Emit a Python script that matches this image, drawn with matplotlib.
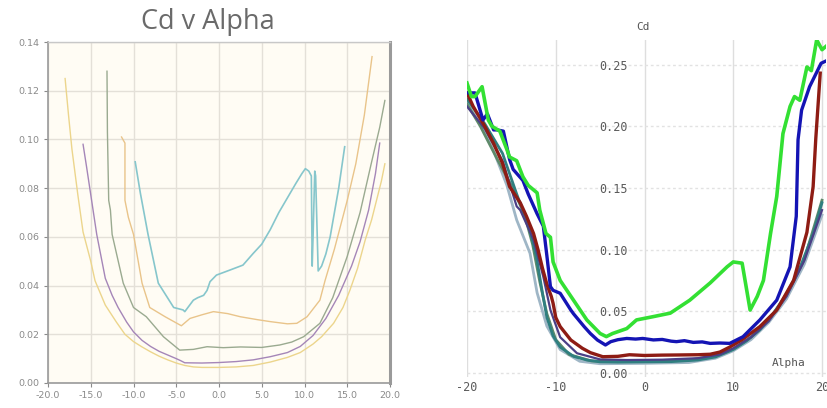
import matplotlib
matplotlib.use("Agg")
import matplotlib.pyplot as plt

# ---------------- left panel: Cd v Alpha (thin pastel curves) ----------------
yel_a = [-18.0, -17.6, -17.2, -16.5, -15.9, -15.0, -14.5, -13.3, -12.0, -11.0, -10.0, -9.0, -8.0, -7.0, -6.0,
         -5.0, -4.0, -3.0, -2.0, 0.0, 2.0, 4.0, 6.0, 8.0, 9.5, 11.0, 12.0, 13.4, 14.5, 15.3, 16.2, 17.1,
         17.85, 19.0, 19.4]
yel_cd = [0.125, 0.110, 0.096, 0.077, 0.062, 0.050, 0.042, 0.032, 0.025, 0.020, 0.017, 0.0148, 0.0128, 0.011,
          0.0095, 0.0082, 0.0072, 0.0066, 0.0064, 0.0064, 0.0066, 0.0072, 0.0086, 0.0105, 0.0125, 0.016, 0.019,
          0.0245, 0.031, 0.038, 0.047, 0.0587, 0.067, 0.083, 0.090]

pur_a = [-15.9, -15.5, -14.9, -14.3, -13.3, -12.5, -11.8, -10.8, -10.0, -9.0, -8.0, -7.0, -6.0, -5.0, -4.5,
         -4.0, -2.0, 0.0, 2.0, 4.0, 6.0, 8.0, 9.5, 11.0, 12.5, 14.0, 15.5, 16.5, 17.5, 18.3, 18.8]
pur_cd = [0.098, 0.089, 0.075, 0.061, 0.043, 0.036, 0.031, 0.025, 0.021, 0.0175, 0.015, 0.013, 0.0115, 0.010,
          0.0092, 0.0083, 0.0082, 0.0084, 0.0088, 0.0095, 0.0108, 0.0125, 0.015, 0.0195, 0.0265, 0.036, 0.048,
          0.058, 0.071, 0.086, 0.0985]

grn_a = [-13.1, -13.05, -12.9, -12.7, -12.5, -11.2, -10.0, -8.5, -6.5, -4.6, -3.0, -1.4, 0.5, 2.5, 5.0, 7.1,
         8.5, 9.9, 11.8, 13.3, 15.0, 16.5, 17.8, 18.8, 19.4]
grn_cd = [0.128, 0.103, 0.075, 0.071, 0.061, 0.041, 0.031, 0.0272, 0.019, 0.0135, 0.0138, 0.0149, 0.0145,
          0.0148, 0.0146, 0.0156, 0.0168, 0.019, 0.0245, 0.035, 0.052, 0.070, 0.090, 0.105, 0.116]

org_a = [-11.4, -11.0, -11.0, -10.6, -10.0, -9.0, -8.1, -6.3, -4.4, -3.4, -2.0, -0.65, 1.0, 2.5, 4.5, 6.0,
         8.0, 9.1, 10.3, 11.8, 12.4, 13.5, 15.0, 16.0, 17.0, 17.9]
org_cd = [0.101, 0.0985, 0.075, 0.068, 0.061, 0.041, 0.031, 0.0272, 0.0235, 0.0265, 0.028, 0.0293, 0.0285,
          0.0272, 0.026, 0.0252, 0.0243, 0.0245, 0.0272, 0.034, 0.042, 0.055, 0.075, 0.090, 0.110, 0.134]

teal_a = [-9.8, -9.2, -8.3, -7.1, -5.3, -4.2, -4.0, -3.0, -2.5, -1.8, -1.4, -1.05, -0.3, 1.3, 2.8, 4.0, 5.0,
          6.0, 7.0, 8.0, 9.0, 9.7, 10.1, 10.5, 10.8, 10.9, 11.0, 11.2, 11.3, 11.6, 12.0, 12.5, 13.0, 13.5,
          14.0, 14.7]
teal_cd = [0.0908, 0.078, 0.061, 0.041, 0.031, 0.030, 0.0293, 0.034, 0.035, 0.036, 0.038, 0.0416, 0.0443,
           0.0464, 0.0484, 0.0532, 0.057, 0.063, 0.070, 0.076, 0.082, 0.086, 0.088, 0.087, 0.085, 0.048, 0.060,
           0.087, 0.085, 0.046, 0.048, 0.053, 0.060, 0.070, 0.080, 0.097]

left_yticks = [0.00, 0.02, 0.04, 0.06, 0.08, 0.10, 0.12, 0.14]
left_xticks = [-20.0, -15.0, -10.0, -5.0, 0.0, 5.0, 10.0, 15.0, 20.0]

# ---------------- right panel: thick coloured curves ----------------
g_a = [-20.0, -19.5, -19.1, -18.3, -17.6, -17.2, -16.3, -15.5, -15.2, -14.4, -13.7, -13.1, -12.1, -11.8,
       -11.1, -10.6, -10.3, -9.5, -8.0, -6.5, -5.0, -4.3, -3.6, -2.0, -0.9, 1.0, 2.9, 5.1, 7.4, 9.3, 10.0,
       11.0, 11.9, 12.7, 13.4, 14.2, 14.9, 15.6, 16.4, 16.9, 17.5, 18.3, 18.8, 19.4, 20.0, 20.5]
g_cd = [0.235, 0.224, 0.224, 0.232, 0.205, 0.200, 0.196, 0.181, 0.175, 0.172, 0.159, 0.152, 0.146, 0.132,
        0.113, 0.110, 0.090, 0.075, 0.059, 0.043, 0.032, 0.0295, 0.032, 0.036, 0.043, 0.0457, 0.0485, 0.059,
        0.073, 0.086, 0.090, 0.089, 0.051, 0.062, 0.075, 0.113, 0.143, 0.194, 0.216, 0.224, 0.221, 0.248,
        0.245, 0.270, 0.262, 0.265]

b_a = [-20.0, -19.1, -18.2, -17.7, -17.0, -16.6, -15.9, -15.2, -14.8, -13.7, -13.1, -12.1, -11.4, -11.0,
       -10.6, -10.3, -9.5, -8.3, -8.0, -6.8, -6.1, -5.3, -4.4, -3.8, -3.0, -2.0, -1.0, -0.2, 1.0, 2.0, 3.0,
       3.6, 4.5, 5.5, 6.5, 7.4, 8.5, 9.6, 11.1, 13.0, 14.9, 16.4, 17.1, 17.3, 17.7, 18.6, 19.9, 20.5]
b_cd = [0.227, 0.227, 0.205, 0.210, 0.197, 0.197, 0.196, 0.173, 0.165, 0.156, 0.145, 0.129, 0.119, 0.095,
        0.070, 0.067, 0.0646, 0.051, 0.048, 0.0376, 0.032, 0.0267, 0.0227, 0.0254, 0.027, 0.028, 0.0275,
        0.028, 0.0268, 0.0272, 0.0258, 0.0254, 0.0262, 0.0248, 0.0252, 0.024, 0.0243, 0.024, 0.0294, 0.043,
        0.059, 0.086, 0.127, 0.189, 0.213, 0.232, 0.251, 0.253]

r_a = [-20.0, -19.3, -18.0, -17.0, -16.0, -15.2, -14.0, -13.3, -12.5, -12.0, -11.5, -11.0, -10.5, -10.3,
       -10.0, -9.5, -8.3, -7.0, -6.1, -4.7, -3.0, -1.7, 0.0, 2.0, 3.6, 6.0, 7.4, 8.5, 9.6, 11.0, 13.0, 14.9,
       16.8, 18.3, 19.0, 19.3, 19.8]
r_cd = [0.227, 0.216, 0.200, 0.186, 0.170, 0.151, 0.138, 0.127, 0.113, 0.100, 0.085, 0.072, 0.062, 0.0565,
        0.045, 0.0376, 0.0267, 0.020, 0.0165, 0.0132, 0.0135, 0.0148, 0.0142, 0.0145, 0.0146, 0.0148, 0.0152,
        0.017, 0.021, 0.027, 0.0376, 0.051, 0.075, 0.114, 0.151, 0.190, 0.243]

k1_a = [-20.0, -18.0, -16.0, -14.4, -13.0, -12.2, -11.5, -11.0, -10.3, -9.5, -8.0, -6.5, -5.0, -3.0, 0.0,
        3.0, 6.0, 8.0, 10.0, 11.5, 13.0, 14.5, 16.0, 17.5, 19.0, 20.0]
k1_cd = [0.222, 0.202, 0.178, 0.145, 0.118, 0.095, 0.065, 0.045, 0.030, 0.021, 0.0135, 0.0105, 0.009,
         0.0088, 0.009, 0.0092, 0.0105, 0.013, 0.019, 0.026, 0.035, 0.048, 0.064, 0.085, 0.113, 0.138]

k2_a = [-20.0, -18.0, -17.0, -15.5, -14.4, -12.9, -12.1, -11.0, -9.5, -7.3, -5.0, 0.0, 5.0, 8.0, 10.0,
        12.0, 14.0, 16.0, 18.0, 20.0]
k2_cd = [0.219, 0.196, 0.180, 0.152, 0.124, 0.097, 0.065, 0.038, 0.019, 0.0095, 0.0075, 0.0078, 0.0085,
         0.012, 0.018, 0.027, 0.041, 0.060, 0.088, 0.128]

k3_a = [-20.0, -18.0, -16.0, -14.4, -14.0, -12.5, -11.4, -10.6, -9.5, -7.6, -5.0, -2.0, 2.0, 6.0, 8.5,
        10.0, 12.0, 14.0, 16.0, 18.0, 20.0]
k3_cd = [0.216, 0.198, 0.172, 0.135, 0.132, 0.108, 0.078, 0.051, 0.029, 0.016, 0.011, 0.0105, 0.0108,
         0.012, 0.015, 0.020, 0.029, 0.042, 0.062, 0.091, 0.132]

k4_a = [-20.0, -18.5, -16.5, -15.0, -13.5, -12.6, -11.8, -11.0, -10.0, -8.5, -6.0, -3.0, 1.0, 5.0, 8.0,
        10.0, 12.0, 14.0, 16.0, 18.0, 20.0]
k4_cd = [0.218, 0.200, 0.172, 0.152, 0.128, 0.104, 0.074, 0.048, 0.027, 0.015, 0.0098, 0.0092, 0.0095,
         0.0105, 0.0138, 0.0195, 0.029, 0.043, 0.063, 0.092, 0.140]

right_yticks = [0.00, 0.05, 0.10, 0.15, 0.20, 0.25]
right_xticks = [-20, -10, 0, 10, 20]

W, H = 827, 408
fig = plt.figure(figsize=(W / 100, H / 100), dpi=100)
fig.patch.set_facecolor("white")

# ---- left axes ----
axl = fig.add_axes([48 / W, (H - 383) / H, 342 / W, (383 - 42) / H])
axl.set_facecolor("#fffcf4")
axl.set_xlim(-20, 20)
axl.set_ylim(0, 0.14)
axl.set_xticks(left_xticks)
axl.set_xticklabels([f"{v:.1f}" for v in left_xticks])
axl.set_yticks(left_yticks)
axl.set_yticklabels([f"{v:.2f}" for v in left_yticks])
axl.grid(True, color="#e4e0d8", linewidth=1.0)
axl.set_axisbelow(True)
axl.tick_params(labelsize=6.8, colors="#8a8a8a", length=3, width=0.8, pad=3)
for side in ("left", "bottom"):
    axl.spines[side].set_color("#9a9a9a")
    axl.spines[side].set_linewidth(1.2)
axl.spines["top"].set_color("#c8c8c8")
axl.spines["top"].set_linewidth(1.0)
axl.spines["right"].set_color("#9a9a9a")
axl.spines["right"].set_linewidth(2.2)

lw_l = 1.0
axl.plot(yel_a, yel_cd, color="#ecd58c", lw=lw_l)
axl.plot(org_a, org_cd, color="#e9c48a", lw=lw_l)
axl.plot(grn_a, grn_cd, color="#9aaa90", lw=lw_l)
axl.plot(pur_a, pur_cd, color="#a586b8", lw=lw_l)
axl.plot(teal_a, teal_cd, color="#86c6cc", lw=1.2)

fig.text(208 / W, 1 - 22 / H, "Cd v Alpha", ha="center", va="center",
         fontsize=19.5, color="#6a6a6a", family="Open Sans")

# ---- right axes ----
x0, x1 = -20.0, 20.5
y0, y1 = -0.003, 0.27
px_l, px_r = 467, 467 + (x1 - x0) * 8.875
py_b, py_t = 373 - y0 * 1234, 373 - y1 * 1234
axr = fig.add_axes([px_l / W, (H - py_b) / H, (px_r - px_l) / W, (py_b - py_t) / H])
axr.set_xlim(x0, x1)
axr.set_ylim(y0, y1)
for s in axr.spines.values():
    s.set_visible(False)
axr.spines["left"].set_position(("data", 0))
axr.spines["bottom"].set_position(("data", 0))
axr.set_xticks(right_xticks)
axr.set_xticklabels([str(v) for v in right_xticks])
axr.set_yticks(right_yticks)
axr.set_yticklabels([f"{v:.2f}" for v in right_yticks])
axr.tick_params(length=0, labelsize=8.5, colors="#5a5a5a")
axr.tick_params(axis="y", pad=12)
axr.tick_params(axis="x", pad=6)
for lab in axr.get_xticklabels() + axr.get_yticklabels():
    lab.set_family("DejaVu Sans Mono")
axr.xaxis.grid(True, color="#dedede", linewidth=1.0)
axr.yaxis.grid(True, color="#e2e2e2", linewidth=1.0, linestyle=(0, (2, 2)))
axr.set_axisbelow(True)

lw_b = 2.0
axr.plot(k2_a, k2_cd, color="#9fb6c6", lw=lw_b)
axr.plot(k4_a, k4_cd, color="#5e8a6a", lw=lw_b)
axr.plot(k1_a, k1_cd, color="#2f7f80", lw=lw_b)
axr.plot(k3_a, k3_cd, color="#4b3f86", lw=1.6)
axr.plot(r_a, r_cd, color="#8e1c14", lw=2.4)
axr.plot(b_a, b_cd, color="#1414b4", lw=2.4)
axr.plot(g_a, g_cd, color="#33e033", lw=2.6)

fig.text(643 / W, 1 - 27 / H, "Cd", ha="center", va="center", fontsize=8,
         color="#555555", family="DejaVu Sans Mono")
axr.text(16.2, 0.008, "Alpha", ha="center", va="center", fontsize=8,
         color="#555555", family="DejaVu Sans Mono")

fig.savefig("out.png", dpi=100)
